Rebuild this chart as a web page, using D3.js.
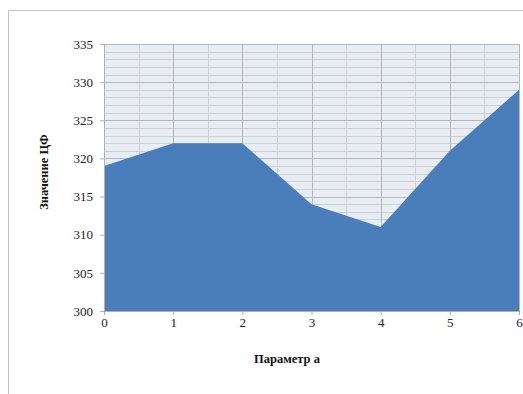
<!DOCTYPE html>
<html><head><meta charset="utf-8">
<script src="https://cdn.jsdelivr.net/npm/d3@7"></script>
<style>body{margin:0;background:#fff}svg{display:block}</style>
</head><body>
<script>
const categories = [0, 1, 2, 3, 4, 5, 6];
const values = [319, 322, 322, 314, 311, 321, 329];
const yTicks = [300, 305, 310, 315, 320, 325, 330, 335];
const xTitle = "Параметр а";
const yTitle = "Значение ЦФ";

const W = 523, H = 394;
const svg = d3.select("body").append("svg").attr("width", W).attr("height", H);
const m = {l: 104, r: 519, t: 44, b: 311};
const x = d3.scaleLinear().domain([0, 6]).range([m.l, m.r]);
const y = d3.scaleLinear().domain([300, 335]).range([m.b, m.t]);
const font = "'Liberation Serif', 'Times New Roman', serif";

// outer frame
svg.append("path").attr("d", `M8.5,${H} V10.5 H${W}`).attr("fill", "none").attr("stroke", "#c4c4c4");

// plot background
svg.append("rect").attr("x", m.l).attr("y", m.t).attr("width", m.r - m.l).attr("height", m.b - m.t).attr("fill", "#e8ecf3");

// minor grid
const g = svg.append("g");
d3.range(301, 335).filter(v => v % 5 !== 0).forEach(v => {
  g.append("line").attr("x1", m.l).attr("x2", m.r).attr("y1", Math.round(y(v)) + 0.5).attr("y2", Math.round(y(v)) + 0.5).attr("stroke", "#cdd0d5").attr("stroke-width", 1);
});
d3.range(0.5, 6, 1).forEach(v => {
  g.append("line").attr("y1", m.t).attr("y2", m.b).attr("x1", Math.round(x(v)) + 0.5).attr("x2", Math.round(x(v)) + 0.5).attr("stroke", "#cdd0d5");
});
// major grid
yTicks.forEach(v => {
  g.append("line").attr("x1", m.l).attr("x2", m.r).attr("y1", Math.round(y(v)) + 0.5).attr("y2", Math.round(y(v)) + 0.5).attr("stroke", "#b5b7ba");
});
categories.forEach(v => {
  g.append("line").attr("y1", m.t).attr("y2", m.b).attr("x1", Math.round(x(v)) + 0.5).attr("x2", Math.round(x(v)) + 0.5).attr("stroke", "#b5b7ba");
});

// area
const area = d3.area().x((d, i) => x(categories[i])).y0(y(300)).y1(d => y(d));
svg.append("path").datum(values).attr("d", area).attr("fill", "#4a7ebb");

// axes
const yAxis = d3.axisLeft(y).tickValues(yTicks).tickFormat(d3.format("d")).tickSize(4).tickPadding(7);
const ya = svg.append("g").attr("transform", `translate(${m.l},0)`).call(yAxis);
const xAxis = d3.axisBottom(x).tickValues(categories).tickFormat(d3.format("d")).tickSize(4).tickPadding(3);
const xa = svg.append("g").attr("transform", `translate(0,${m.b})`).call(xAxis);
[ya, xa].forEach(a => {
  a.select(".domain").attr("stroke", "#b0b0b0");
  a.selectAll(".tick line").attr("stroke", "#b0b0b0");
  a.selectAll(".tick text").attr("font-family", font).attr("font-size", 13).attr("fill", "#222");
});

svg.append("text").attr("x", 287).attr("y", 363).attr("text-anchor", "middle")
  .attr("font-family", font).attr("font-weight", "bold").attr("font-size", 12.5).attr("fill", "#111").text(xTitle);
svg.append("text").attr("transform", "translate(48,172) rotate(-90)").attr("text-anchor", "middle")
  .attr("font-family", font).attr("font-weight", "bold").attr("font-size", 12.5).attr("fill", "#111").text(yTitle);
</script>
</body></html>
